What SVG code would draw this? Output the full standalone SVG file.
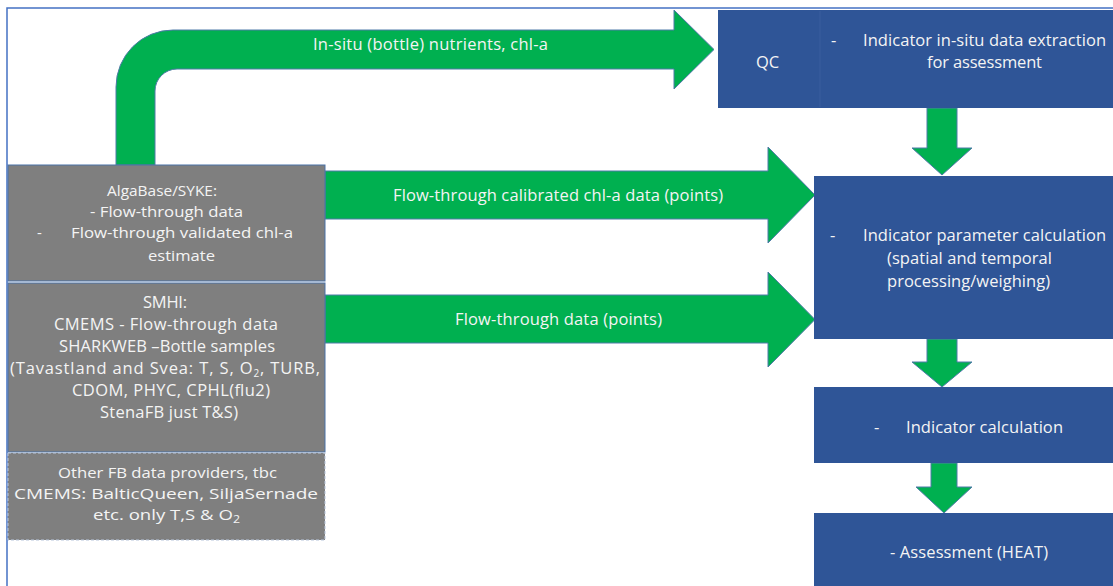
<svg xmlns="http://www.w3.org/2000/svg" width="1113" height="586" viewBox="0 0 1113 586">
<defs>
<style>
.t{font-family:"Open Sans","Liberation Sans",sans-serif;fill:#f4f4f4;font-size:16.5px}
.s{font-size:15px}
.m{text-anchor:middle}
.arrow{fill:#00b050;stroke:#4f7aa8;stroke-width:1}
.gray{fill:#7f7f7f;stroke:#4a72a8;stroke-width:1}
.gray3{fill:#7f7f7f;stroke:#b8c6dc;stroke-width:1;stroke-dasharray:3 2}
.blue{fill:#2f5597}
.sub{font-size:10px}
</style>
</defs>
<rect x="0" y="0" width="1113" height="586" fill="#ffffff"/>
<g id="frame">
<path d="M7,586 V8 H1113" fill="none" stroke="#4472c4" stroke-width="1.5"/>
</g>
<g id="connectors">
<path class="arrow" d="M116,165 V87 A57,57 0 0 1 173,30 H674 V10 L714,49.5 L674,89 V69 H177 A22,22 0 0 0 155,91 V165 Z"/>
<text class="t m" x="430.5" y="50" textLength="235">In-situ (bottle) nutrients, chl-a</text>
<path class="arrow" d="M325,171 H768 V147 L815,195 L768,243 V219 H325 Z"/>
<text class="t m" x="558" y="201" textLength="330">Flow-through calibrated chl-a data (points)</text>
<path class="arrow" d="M325,295 H768 V272 L815,319.5 L768,367 V343 H325 Z"/>
<text class="t m" x="558.5" y="325" textLength="207">Flow-through data (points)</text>
<path class="arrow" d="M927,108 H957 V148 H972 L942,175 L912,148 H927 Z"/>
<path class="arrow" d="M927,339 H957 V362 H972 L942,387 L912,362 H927 Z"/>
<path class="arrow" d="M931,463 H957 V487 H972 L944,513 L916,487 H931 Z"/>
</g>
<g id="node-algabase">
<rect class="gray" x="8" y="165" width="317" height="116"/>
<text class="t s m" x="162" y="196" textLength="110" lengthAdjust="spacingAndGlyphs">AlgaBase/SYKE:</text>
<text class="t s m" x="166.5" y="217" textLength="153" lengthAdjust="spacingAndGlyphs">- Flow-through data</text>
<text class="t s" x="37" y="238">-</text>
<text class="t s" x="71" y="238" textLength="222" lengthAdjust="spacingAndGlyphs">Flow-through validated chl-a</text>
<text class="t s m" x="181.5" y="261" textLength="67" lengthAdjust="spacingAndGlyphs">estimate</text>
</g>
<g id="node-smhi">
<rect class="gray" x="8" y="283" width="317" height="169"/>
<text class="t m" x="165" y="308" textLength="44">SMHI:</text>
<text class="t m" x="166" y="330" textLength="224">CMEMS  - Flow-through data</text>
<text class="t m" x="167" y="352" textLength="216">SHARKWEB –Bottle samples</text>
<text class="t m" x="165" y="374" textLength="310">(Tavastland and Svea: T, S, O<tspan class="sub" dy="3">2</tspan><tspan dy="-3">, TURB,</tspan></text>
<text class="t m" x="171" y="396" textLength="198">CDOM, PHYC, CPHL(flu2)</text>
<text class="t m" x="169" y="418" textLength="138">StenaFB just T&amp;S)</text>
</g>
<g id="node-other">
<rect class="gray3" x="8" y="453" width="317" height="87"/>
<text class="t s m" x="167.5" y="478" textLength="219" lengthAdjust="spacingAndGlyphs">Other FB data providers, tbc</text>
<text class="t s m" x="166" y="499" textLength="304" lengthAdjust="spacingAndGlyphs">CMEMS: BalticQueen, SiljaSernade</text>
<text class="t s m" x="166.5" y="520" textLength="147" lengthAdjust="spacingAndGlyphs">etc. only T,S &amp; O<tspan class="sub" dy="3">2</tspan></text>
</g>
<g id="node-qc">
<rect class="blue" x="718" y="10" width="395" height="98"/>
<line x1="820" y1="11" x2="820" y2="107" stroke="#3a5f9e" stroke-width="1"/>
<text class="t m" x="767.5" y="68">QC</text>
<text class="t" x="831" y="46">-</text>
<text class="t" x="863" y="46" textLength="243">Indicator in-situ data extraction</text>
<text class="t m" x="984.5" y="68" textLength="115">for assessment</text>
</g>
<g id="node-param">
<rect class="blue" x="814" y="176" width="299" height="163"/>
<text class="t" x="830" y="241">-</text>
<text class="t" x="863" y="241" textLength="243">Indicator parameter calculation</text>
<text class="t" x="887" y="264" textLength="165">(spatial and temporal</text>
<text class="t" x="887" y="287" textLength="163">processing/weighing)</text>
</g>
<g id="node-indicator">
<rect class="blue" x="814" y="387" width="299" height="76"/>
<text class="t" x="874" y="433">-</text>
<text class="t" x="906" y="433" textLength="157">Indicator calculation</text>
</g>
<g id="node-assessment">
<rect class="blue" x="814" y="513" width="299" height="80"/>
<text class="t m" x="969" y="558" textLength="158">- Assessment  (HEAT)</text>
</g>
</svg>
